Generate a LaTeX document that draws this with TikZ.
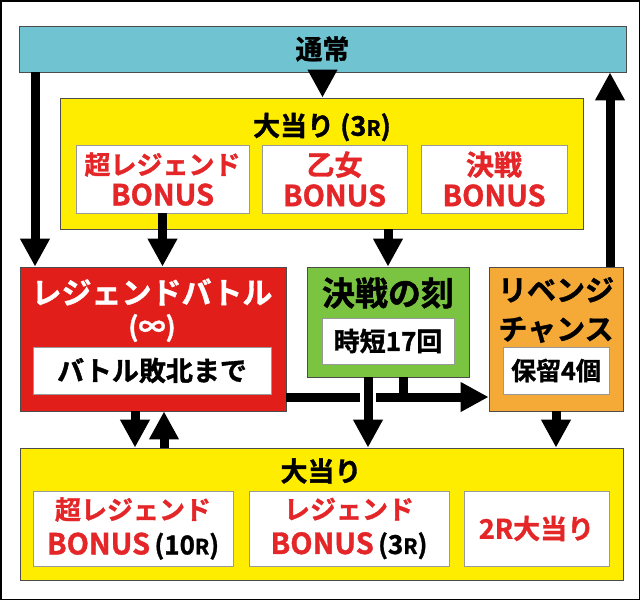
\documentclass[tikz,border=0pt]{standalone}
\usepackage{fontspec}
\setmainfont{Noto Sans CJK JP}[UprightFont=* Bold, UprightFeatures={FakeBold=1.3}]
\usetikzlibrary{arrows.meta}
\definecolor{tealbar}{RGB}{112,196,210}
\definecolor{hityellow}{RGB}{255,237,0}
\definecolor{battlered}{RGB}{226,30,26}
\definecolor{kessengreen}{RGB}{122,196,66}
\definecolor{revengeorange}{RGB}{245,170,56}
\definecolor{bonusred}{RGB}{228,38,40}
\newcommand{\pxsize}[2]{\fontsize{#1}{#2}\selectfont}
\newcommand{\smr}{{\pxsize{21}{21}R}}
\newcommand{\bns}{{\pxsize{29}{29}BONUS}}

\begin{document}
\begin{tikzpicture}[x=1pt, y=-1pt,
        panel/.style={draw=black!70, line width=0.8pt, inner sep=0pt},
        inbox/.style={draw=black!40, line width=0.8pt, fill=white, inner sep=0pt, align=center},
        bonus/.style={inbox, text=bonusred, font=\pxsize{26}{31}},
        fat/.style={line width=9pt, -{Triangle[length=28pt,width=28pt]}},
        bar/.style={line width=9pt}
    ]
        \useasboundingbox (0,0) rectangle (640,600);
        \draw[line width=1.5pt] (0.75,0.75) rectangle (639.25,599.25);

        % normal play
        \node[panel, fill=tealbar, minimum width=607pt, minimum height=46pt, font=\pxsize{27}{27}] (tsujo) at (322.5,49) {通常};

        % jackpot 3R
        \node[panel, fill=hityellow, minimum width=523pt, minimum height=131pt] (hit3r) at (321.5,163.5) {};
        \node[font=\pxsize{27}{27}] (hit3rtitle) at (322,127) {大当り (3\smr)};
        \node[bonus, minimum width=173pt, minimum height=68pt] (b1) at (162.5,179) {超レジェンド\\\bns};
        \node[bonus, font=\pxsize{28}{31}, minimum width=145pt, minimum height=68pt] (b2) at (334.5,179) {乙女\\\bns};
        \node[bonus, font=\pxsize{28}{31}, minimum width=146pt, minimum height=68pt] (b3) at (494,179) {決戦\\\bns};

        % legend battle
        \node[panel, fill=battlered, minimum width=266pt, minimum height=144pt] (battle) at (153,339) {};
        \node[text=white, font=\pxsize{30}{30}] (battletitle) at (152,292) {レジェンドバトル};
        \node[text=white, font=\pxsize{27}{27}] (battleinf) at (152,328) {(∞)};
        \node[inbox, minimum width=238pt, minimum height=47pt, font=\pxsize{27}{27}] (battleend) at (152,370.5) {バトル敗北まで};

        % kessen no toki
        \node[panel, fill=kessengreen, minimum width=162pt, minimum height=110pt] (kessen) at (388,322) {};
        \node[font=\pxsize{33}{33}] (kessentitle) at (388,293) {決戦の刻};
        \node[inbox, minimum width=132pt, minimum height=46pt, font=\pxsize{26}{26}] (jitan) at (388,341) {時短17回};

        % revenge chance
        \node[panel, fill=revengeorange, minimum width=134pt, minimum height=144pt] (revenge) at (556,339) {};
        \node[font=\pxsize{29}{39}, align=center] (revengetitle) at (556,310) {リベンジ\\チャンス};
        \node[inbox, minimum width=106pt, minimum height=47pt, font=\pxsize{25}{25}] (horyu) at (556,370.5) {保留4個};

        % jackpot
        \node[panel, fill=hityellow, minimum width=603pt, minimum height=132pt] (hit) at (321.5,514) {};
        \node[font=\pxsize{27}{27}] (hittitle) at (321,471) {大当り};
        \node[bonus, font=\pxsize{26}{35}, minimum width=200pt, minimum height=75pt] (c1) at (133,528.5) {超レジェンド\\\bns\,\textcolor{black}{(10\smr)}};
        \node[bonus, font=\pxsize{26}{35}, minimum width=200pt, minimum height=75pt] (c2) at (349,528.5) {レジェンド\\\bns\,\textcolor{black}{(3\smr)}};
        \node[bonus, font=\pxsize{27}{27}, minimum width=145pt, minimum height=75pt] (c3) at (536.5,528.5) {2R大当り};

        % connectors
        \coordinate (lx) at (35,0);
        \coordinate (rx) at (610,0);
        \coordinate (jx) at (403,0);
        \coordinate (dx) at (368,0);
        \coordinate (ax) at (135,0);
        \coordinate (bx) at (164,0);
        \coordinate (hy) at (0,397);
        \draw[fat] (tsujo.south -| lx) -- (battle.north -| lx);
        \draw[fat] (tsujo.south) -- (tsujo.south |- hit3r.north);
        \draw[fat] (b1.south) -- (b1.south |- battle.north);
        \draw[fat] (hit3r.south -| kessen.north) -- (kessen.north);
        \draw[fat] (revenge.north -| rx) -- (tsujo.south -| rx);
        \draw[bar] (kessen.south -| jx) -- (hy -| jx);
        \draw[fat] (battle.east |- hy) -- (revenge.west |- hy);
        \draw[white, line width=16pt] (hy -| dx) ++(0,-7) -- ++(0,14);
        \draw[fat] (kessen.south -| dx) -- (hit.north -| dx);
        \draw[fat] (battle.south -| ax) -- (hit.north -| ax);
        \draw[fat] (hit.north -| bx) -- (battle.south -| bx);
        \draw[fat] (revenge.south) -- (revenge.south |- hit.north);
    \end{tikzpicture}
\end{document}
